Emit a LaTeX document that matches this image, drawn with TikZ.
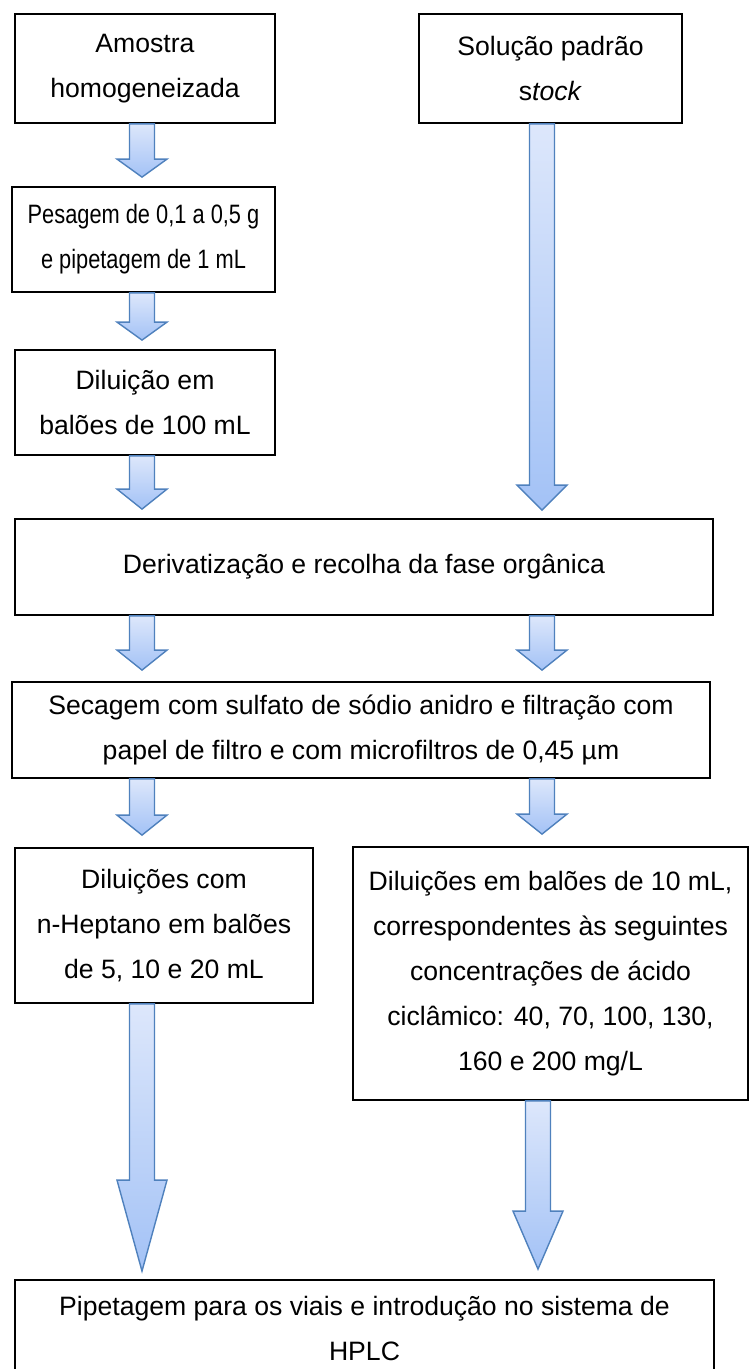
\documentclass[tikz,border=0pt]{standalone}
\usepackage{fontspec}
\setmainfont{Liberation Sans}
\newfontfamily\narrowfont[FakeStretch=0.82]{Liberation Sans}
\usepackage{tikz}
\usetikzlibrary{calc}
\definecolor{arrowtop}{RGB}{221,231,251}
\definecolor{arrowbot}{RGB}{163,194,246}
\definecolor{arrowline}{RGB}{79,129,189}
\tikzset{
    x=0.5pt, y=-0.5pt,
    box/.style={draw, line width=0.9pt, fill=white, inner sep=0pt, align=center,
        font=\fontsize{13.3}{22.5}\selectfont},
    blockfill/.style={top color=arrowtop, bottom color=arrowbot, draw=arrowline, line width=0.7pt},
    blockshadow/.style={fill=black, opacity=0.35, xshift=0.6pt, yshift=-1.6pt}
}
% #1 start, #2 tip, #3 head length, #4 style
\newcommand{\arrowpath}[4]{%
    \path[#4] let \p1=(#1), \p2=(#2) in
        (\x2-6.25pt,\y1) -- (\x2+6.25pt,\y1) -- (\x2+6.25pt,\y2+#3) -- (\x2+12.5pt,\y2+#3)
        -- (\x2,\y2) -- (\x2-12.5pt,\y2+#3) -- (\x2-6.25pt,\y2+#3) -- cycle;}
\newcommand{\blockarrow}[3]{%
    \arrowpath{#1}{#2}{#3}{blockshadow}
    \arrowpath{#1}{#2}{#3}{blockfill}}

\begin{document}
\begin{tikzpicture}
    \clip (0,0) rectangle (750,1369);
    \fill[white] (0,0) rectangle (750,1369);
    \coordinate (colL) at (142,0);
    \coordinate (colR) at (542,0);
    \coordinate (colR2) at (538,0);

    \node[box, minimum width=130pt, minimum height=54.5pt] (amostra) at (145,68.5) {Amostra\\homogeneizada};
    \node[box, minimum width=131.5pt, minimum height=54.5pt] (solucao) at (550.5,68.5) {Solução padrão\\s\textit{tock}};
    \node[box, minimum width=131.5pt, minimum height=52.5pt, font=\fontsize{13.3}{22.5}\narrowfont] (pesagem) at (143.5,239.5) {Pesagem de 0,1 a 0,5 g\\e pipetagem de 1 mL};
    \node[box, minimum width=130pt, minimum height=52.5pt] (diluicao) at (145,402.5) {Diluição em\\balões de 100 mL};
    \node[box, minimum width=349pt, minimum height=48pt] (deriv) at (364,567) {Derivatização e recolha da fase orgânica};
    \node[box, minimum width=349pt, minimum height=48pt] (secagem) at (361,730) {Secagem com sulfato de sódio anidro e filtração com\\papel de filtro e com microfiltros de 0,45 µm};
    \node[box, minimum width=149pt, minimum height=77.5pt] (dilleft) at (164,925.5) {Diluições com\\n-Heptano em balões\\de 5, 10 e 20 mL};
    \node[box, minimum width=197.5pt, minimum height=126.5pt] (dilright) at (550.5,973.5) {Diluições em balões de 10 mL,\\correspondentes às seguintes\\concentrações de ácido\\ciclâmico: 40, 70, 100, 130,\\160 e 200 mg/L};
    \node[box, minimum width=349.5pt, minimum height=48pt] (hplc) at (364.5,1328) {Pipetagem para os viais e introdução no sistema de\\HPLC};

    \blockarrow{amostra.south -| colL}{$(pesagem.north -| colL)+(0,4.5pt)$}{9pt}
    \blockarrow{pesagem.south -| colL}{$(diluicao.north -| colL)+(0,4.5pt)$}{9pt}
    \blockarrow{diluicao.south -| colL}{$(deriv.north -| colL)+(0,4.5pt)$}{10pt}
    \blockarrow{solucao.south -| colR}{$(deriv.north -| colR)+(0,4pt)$}{12.5pt}
    \blockarrow{deriv.south -| colL}{$(secagem.north -| colL)+(0,5.5pt)$}{10pt}
    \blockarrow{deriv.south -| colR}{$(secagem.north -| colR)+(0,5.5pt)$}{10pt}
    \blockarrow{secagem.south -| colL}{$(dilleft.north -| colL)+(0,6pt)$}{10pt}
    \blockarrow{secagem.south -| colR}{$(dilright.north -| colR)+(0,6pt)$}{10pt}
    \blockarrow{dilleft.south -| colL}{$(hplc.north -| colL)+(0,4pt)$}{45.5pt}
    \blockarrow{dilright.south -| colR2}{$(hplc.north -| colR2)+(0,5pt)$}{29pt}
\end{tikzpicture}
\end{document}
